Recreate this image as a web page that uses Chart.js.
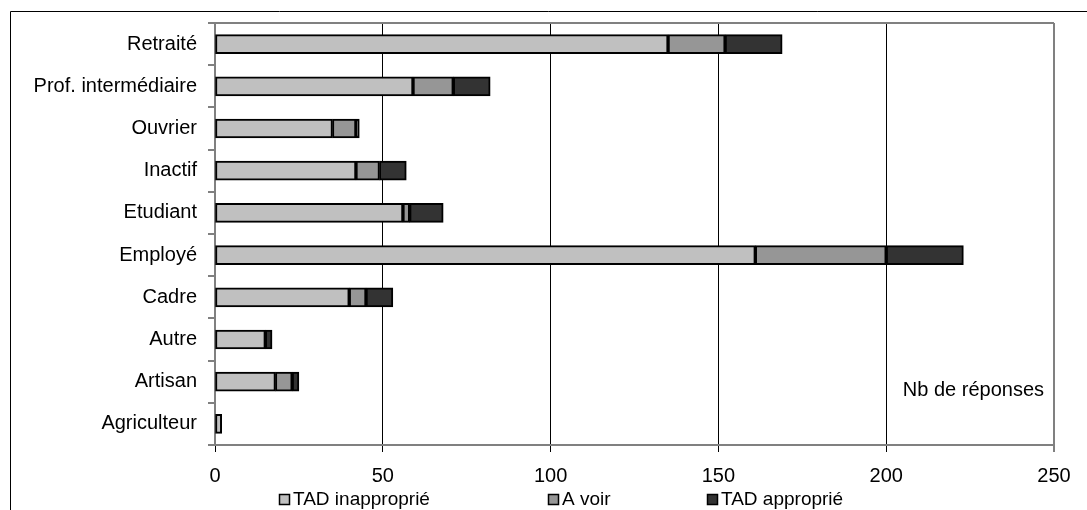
<!DOCTYPE html>
<html>
<head>
<meta charset="utf-8">
<script src="https://cdn.jsdelivr.net/npm/chart.js@4.4.1/dist/chart.umd.min.js"></script>
<style>
  html, body { margin: 0; padding: 0; background: #fff; overflow: hidden; }
  #wrap { position: relative; width: 1087px; height: 510px; }
</style>
</head>
<body>
<div id="wrap"><canvas id="chart" width="1087" height="510"></canvas></div>
<script>
// ================= DONNÉES =================
const categories = [
  "Retraité", "Prof. intermédiaire", "Ouvrier", "Inactif", "Etudiant",
  "Employé", "Cadre", "Autre", "Artisan", "Agriculteur"
];
const tadInapproprie = [135, 59, 35, 42, 56, 161, 40, 15, 18, 2];
const aVoir          = [17, 12, 7, 7, 2, 39, 5, 0, 5, 0];
const tadApproprie   = [17, 11, 1, 8, 10, 23, 8, 2, 2, 0];

const seriesNames = ["TAD inapproprié", "A voir", "TAD approprié"];
const xTicks = [0, 50, 100, 150, 200, 250];
const axisNote = "Nb de réponses";

// ================= STYLE =================
const FONT = "'Liberation Sans', Arial, Helvetica, sans-serif";
const colors = ["#c0c0c0", "#969696", "#333333"];

// cadre extérieur + bordure de la zone de tracé
const framePlugin = {
  id: "frame",
  beforeDraw(chart) {
    const ctx = chart.ctx;
    ctx.save();
    ctx.strokeStyle = "#000";
    ctx.lineWidth = 1;
    ctx.beginPath();
    ctx.moveTo(10.5, chart.height);
    ctx.lineTo(10.5, 11.5);
    ctx.lineTo(chart.width, 11.5);
    ctx.stroke();
    ctx.restore();
  },
  beforeDatasetsDraw(chart) {
    const a = chart.chartArea;
    const ctx = chart.ctx;
    ctx.save();
    ctx.strokeStyle = "#808080";
    ctx.lineWidth = 2;
    ctx.beginPath();
    ctx.moveTo(a.left, a.top);
    ctx.lineTo(a.right, a.top);
    ctx.stroke();
    ctx.restore();
  }
};

// légende en bas + texte "Nb de réponses"
const legendPlugin = {
  id: "bottomLegend",
  afterDraw(chart) {
    const ctx = chart.ctx;
    const xs = [279, 548, 707];
    ctx.save();
    ctx.font = "19px " + FONT;
    ctx.textBaseline = "middle";
    ctx.textAlign = "left";
    chart.data.datasets.forEach((ds, i) => {
      ctx.fillStyle = ds.backgroundColor;
      ctx.fillRect(xs[i], 494, 11, 11);
      ctx.strokeStyle = "#000";
      ctx.lineWidth = 1.5;
      ctx.strokeRect(xs[i] + 0.5, 494.5, 10, 10);
      ctx.fillStyle = "#000";
      ctx.fillText(ds.label, xs[i] + 14, 500);
    });

    const yScale = chart.scales.y;
    ctx.font = "20px " + FONT;
    ctx.textAlign = "right";
    ctx.fillText(axisNote, chart.chartArea.right - 10, yScale.getPixelForValue(8) + 9);
    ctx.restore();
  }
};

const datasets = [tadInapproprie, aVoir, tadApproprie].map((values, i) => ({
  label: seriesNames[i],
  data: values,
  backgroundColor: colors[i],
  borderColor: "#000",
  borderWidth: 2,
  borderSkipped: false,
  barThickness: 19
}));

new Chart(document.getElementById("chart"), {
  type: "bar",
  data: { labels: categories, datasets: datasets },
  options: {
    indexAxis: "y",
    responsive: false,
    animation: false,
    devicePixelRatio: 1,
    layout: { padding: { left: 0, top: 21, right: 33, bottom: 0 } },
    plugins: {
      legend: { display: false },
      tooltip: { enabled: false }
    },
    scales: {
      x: {
        stacked: true,
        min: 0,
        max: 250,
        afterBuildTicks(scale) {
          scale.ticks = xTicks.map(v => ({ value: v }));
        },
        afterFit(scale) { scale.height = 65; },
        border: { display: true, color: "#808080", width: 2 },
        grid: {
          color: c => c.tick.value === 0 ? "rgba(0,0,0,0)" :
                      (c.tick.value === 250 ? "#808080" : "#000"),
          lineWidth: c => c.tick.value === 250 ? 2 : 1,
          tickColor: "#000",
          tickLength: 7,
          tickWidth: 1
        },
        ticks: {
          color: "#000",
          font: { family: FONT, size: 20 },
          padding: 12,
          maxRotation: 0
        }
      },
      y: {
        stacked: true,
        afterFit(scale) { scale.width = 215; },
        border: { display: true, color: "#808080", width: 2 },
        grid: {
          offset: true,
          drawOnChartArea: false,
          tickLength: 7,
          color: "#808080",
          lineWidth: 2
        },
        ticks: {
          color: "#000",
          font: { family: FONT, size: 20 },
          padding: 11
        }
      }
    }
  },
  plugins: [framePlugin, legendPlugin]
});
</script>
</body>
</html>
